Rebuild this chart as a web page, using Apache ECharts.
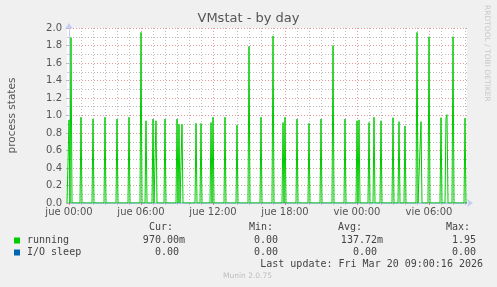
<!DOCTYPE html>
<html>
<head>
<meta charset="utf-8">
<script src="https://cdn.jsdelivr.net/npm/echarts@6/dist/echarts.min.js"></script>
<style>
html,body{margin:0;padding:0;background:#f0f0f0;}
#chart{width:497px;height:287px;}
</style>
</head>
<body>
<div id="chart"></div>
<script>
// ---- data (minutes relative to "jue 00:00") ----
const axisStart = -10;
const axisEnd = 1990;
const tickLabels = ['jue 00:00', 'jue 06:00', 'jue 12:00', 'jue 18:00', 'vie 00:00', 'vie 06:00'];
const majorTicks = [0, 360, 720, 1080, 1440, 1800];
const hourTicks = [60, 120, 180, 240, 300, 420, 480, 540, 600, 660, 780, 840, 900, 960, 1020,
  1140, 1200, 1260, 1320, 1380, 1500, 1560, 1620, 1680, 1740, 1860, 1920, 1980];

// running: sample times (minutes) where the value is non-zero, and their values
const runningTimes = [0, 10, 60, 120, 180, 240, 300, 360, 385, 420, 435, 480, 540, 550, 565, 635, 660,
  710, 720, 780, 840, 900, 960, 1020, 1070, 1080, 1140, 1200, 1260, 1320, 1380, 1440, 1450, 1500, 1525,
  1560, 1620, 1650, 1680, 1740, 1760, 1800, 1860, 1885, 1890, 1920, 1980];
const runningValues = [0.95, 1.89, 0.98, 0.96, 0.98, 0.96, 0.98, 1.95, 0.94, 0.96, 0.94, 0.96, 0.96, 0.90, 0.90, 0.91, 0.91,
  0.92, 0.98, 0.98, 0.89, 1.79, 0.98, 1.91, 0.92, 0.98, 0.96, 0.91, 0.96, 1.80, 0.96, 0.94, 0.95, 0.92, 0.98,
  0.94, 0.975, 0.93, 0.88, 1.95, 0.93, 1.90, 0.975, 0.975, 1.01, 1.90, 0.97];
const runningBaseline = 0;      // value between the spikes
const ioSleepValues = [[axisStart, 0], [axisEnd, 0]];

const seriesNames = ['running', 'I/O sleep'];
const statHeaders = ['Cur:', 'Min:', 'Avg:', 'Max:'];
const runningStats = ['970.00m', '0.00', '137.72m', '1.95'];
const ioSleepStats = ['0.00', '0.00', '0.00', '0.00'];
const titleText = 'VMstat - by day';
const yName = 'process states';
const lastUpdate = 'Last update: Fri Mar 20 09:00:16 2026';
const footer = 'Munin 2.0.75';
const sideText = 'RRDTOOL / TOBI OETIKER';

// build the line (each sample is 5 minutes apart; zeros around the spikes)
const pts = {};
pts[axisStart] = runningBaseline;
pts[axisEnd] = runningBaseline;
runningTimes.forEach(t => {
  if (!(t - 5 in pts)) pts[t - 5] = runningBaseline;
  if (!(t + 5 in pts)) pts[t + 5] = runningBaseline;
});
runningTimes.forEach((t, i) => { pts[t] = runningValues[i]; });
const runningData = Object.keys(pts).map(Number).sort((a, b) => a - b).map(t => [t, pts[t]]);

const mono = 'DejaVu Sans Mono';
const sans = 'DejaVu Sans';
const txtColor = '#444';
const gridGray = '#bcbcbc';
const gridRed = '#e49a9a';

const chart = echarts.init(document.getElementById('chart'), null, {renderer: 'canvas'});

const graphics = [
  {type: 'text', left: 'center', top: 12, style: {text: titleText, font: '13px ' + sans, fill: '#555'}},
  {type: 'text', x: 12, y: 115.5, rotation: Math.PI / 2,
    style: {text: yName, font: '10.5px ' + sans, fill: '#555', align: 'center', verticalAlign: 'middle'}},
  {type: 'text', x: 487, y: 5, rotation: -Math.PI / 2,
    style: {text: sideText, font: '7.5px ' + sans, fill: '#c8c8c8', align: 'left', verticalAlign: 'middle'}},
  {type: 'rect', shape: {x: 14, y: 237.5, width: 6, height: 6}, style: {fill: '#00cc00'}},
  {type: 'rect', shape: {x: 14, y: 249.5, width: 6, height: 6}, style: {fill: '#0066b3'}},
  {type: 'text', x: 27, y: 240.5, style: {text: seriesNames[0], font: '10px ' + mono, fill: txtColor, verticalAlign: 'middle'}},
  {type: 'text', x: 27, y: 252.5, style: {text: seriesNames[1], font: '10px ' + mono, fill: txtColor, verticalAlign: 'middle'}},
  {type: 'text', x: 483, y: 264, style: {text: lastUpdate, font: '10px ' + mono, fill: txtColor, align: 'right', verticalAlign: 'middle'}},
  {type: 'text', x: 247.5, y: 276, style: {text: footer, font: '7.5px ' + sans, fill: '#bdbdbd', align: 'center', verticalAlign: 'middle'}}
];
const headerRight = [173, 273, 362, 470];
const row1Right = [185, 278, 383, 476];
const row2Right = [179, 278, 377, 476];
statHeaders.forEach((h, i) => {
  graphics.push({type: 'text', x: headerRight[i], y: 227.5, style: {text: h, font: '10px ' + mono, fill: txtColor, align: 'right', verticalAlign: 'middle'}});
  graphics.push({type: 'text', x: row1Right[i], y: 240.5, style: {text: runningStats[i], font: '10px ' + mono, fill: txtColor, align: 'right', verticalAlign: 'middle'}});
  graphics.push({type: 'text', x: row2Right[i], y: 252.5, style: {text: ioSleepStats[i], font: '10px ' + mono, fill: txtColor, align: 'right', verticalAlign: 'middle'}});
});

chart.setOption({
  animation: false,
  backgroundColor: '#f0f0f0',
  textStyle: {fontFamily: sans},
  grid: {left: 67, right: 30, top: 28, bottom: 84, show: true, backgroundColor: '#ffffff', borderWidth: 0},
  xAxis: [
    {
      type: 'value', min: axisStart, max: axisEnd, position: 'bottom',
      axisLine: {show: false},
      axisLabel: {show: false},
      axisTick: {show: true, customValues: hourTicks, length: 2, lineStyle: {color: '#c0c0c0'}},
      splitLine: {show: true, lineStyle: {color: gridGray, type: [1, 2], width: 1}}
    },
    {
      type: 'value', min: axisStart, max: axisEnd, position: 'bottom', offset: 0,
      axisLine: {show: true, lineStyle: {color: '#c4ccf4', width: 1}, symbol: ['none', 'arrow'], symbolSize: [6, 6], symbolOffset: [0, 6]},
      axisLabel: {show: true, customValues: majorTicks, formatter: v => tickLabels[majorTicks.indexOf(v)] || '',
        color: '#555', fontSize: 10, fontFamily: sans, margin: 4},
      axisTick: {show: true, customValues: majorTicks, length: 2, lineStyle: {color: '#e08080'}},
      splitLine: {show: true, lineStyle: {color: gridRed, type: [1, 2], width: 1}}
    }
  ],
  yAxis: {
    type: 'value', min: 0, max: 2, interval: 0.2,
    axisLine: {show: true, lineStyle: {color: '#c4ccf4'}, symbol: ['none', 'arrow'], symbolSize: [6, 6], symbolOffset: [0, 5]},
    axisLabel: {color: '#555', fontSize: 10, fontFamily: sans, margin: 5, formatter: v => v.toFixed(1)},
    axisTick: {show: true, length: 3, lineStyle: {color: '#bbb'}},
    minorTick: {show: true, splitNumber: 2, length: 2, lineStyle: {color: '#ccc'}},
    splitLine: {show: true, lineStyle: {color: gridRed, type: [1, 2]}},
    minorSplitLine: {show: true, lineStyle: {color: gridGray, type: [1, 2]}}
  },
  series: [
    {
      name: seriesNames[0], type: 'line', xAxisIndex: 1, data: runningData,
      showSymbol: false, lineStyle: {color: '#00cc00', width: 1}, itemStyle: {color: '#00cc00'}, z: 3
    },
    {
      name: seriesNames[1], type: 'line', xAxisIndex: 1, data: ioSleepValues,
      showSymbol: false, lineStyle: {color: '#0066b3', width: 1, opacity: 0.5}, itemStyle: {color: '#0066b3'}, z: 2
    }
  ],
  graphic: graphics
});
</script>
</body>
</html>
